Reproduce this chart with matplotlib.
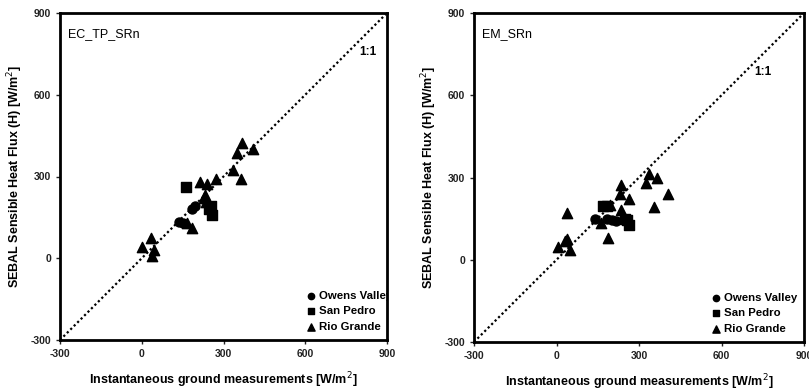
import numpy as np
import matplotlib
matplotlib.use('Agg')
import matplotlib.pyplot as plt

plt.rcParams['font.family'] = ['Liberation Sans', 'DejaVu Sans']
plt.rcParams['axes.unicode_minus'] = False

# EC_TP_SRn panel
ec_owens_x = [138, 152, 183, 197]
ec_owens_y = [134, 130, 182, 192]
ec_sanpedro_x = [163, 245, 253, 257]
ec_sanpedro_y = [263, 180, 190, 160]
ec_rio_x = [0, 33, 45, 36, 183, 165, 214, 238, 272, 232, 236, 334, 348, 367, 407, 363, 228]
ec_rio_y = [40, 73, 30, 10, 110, 130, 281, 273, 290, 232, 208, 324, 385, 424, 400, 290, 220]

# EM_SRn panel
em_owens_x = [140, 185, 200, 215]
em_owens_y = [148, 150, 145, 140]
em_sanpedro_x = [168, 185, 250, 255, 262]
em_sanpedro_y = [197, 197, 150, 145, 128]
em_rio_x = [37, 37, 30, 5, 49, 162, 188, 194, 233, 231, 265, 233, 240, 337, 325, 367, 407, 355]
em_rio_y = [172, 75, 70, 46, 36, 135, 78, 198, 273, 238, 220, 182, 160, 313, 279, 297, 239, 194]

ticks = [-300, 0, 300, 600, 900]

fig = plt.figure(figsize=(8.09, 3.9), dpi=100)
ax1 = fig.add_axes([60/809, 50/390, 327/809, 327/390])
ax2 = fig.add_axes([474/809, 48/390, 330/809, 329/390])

panels = [
    (ax1, 'EC_TP_SRn', (ec_owens_x, ec_owens_y), (ec_sanpedro_x, ec_sanpedro_y), (ec_rio_x, ec_rio_y), (830, 757)),
    (ax2, 'EM_SRn', (em_owens_x, em_owens_y), (em_sanpedro_x, em_sanpedro_y), (em_rio_x, em_rio_y), (751, 685)),
]

for ax, name, ow, sp, rg, pos11 in panels:
    ax.plot([-300, 900], [-300, 900], color='black', linestyle=(0, (1, 1.2)), lw=1.6, zorder=1)
    ax.scatter(ow[0], ow[1], marker='o', s=42, color='black', label='Owens Valley', zorder=3)
    ax.scatter(sp[0], sp[1], marker='s', s=42, color='black', label='San Pedro', zorder=3)
    ax.scatter(rg[0], rg[1], marker='^', s=55, color='black', label='Rio Grande', zorder=3)
    ax.set_xlim(-300, 900)
    ax.set_ylim(-300, 900)
    ax.set_xticks(ticks)
    ax.set_yticks(ticks)
    ax.tick_params(labelsize=7.5, length=3, width=1, colors='#222222')
    for lab in ax.get_xticklabels() + ax.get_yticklabels():
        lab.set_fontweight('bold')
    for sp_ in ax.spines.values():
        sp_.set_linewidth(2)
    ax.text(0.025, 0.955, name, transform=ax.transAxes, fontsize=9, ha='left', va='top')
    ax.text(pos11[0], pos11[1], '1:1', fontsize=8.5, fontweight='bold', ha='center', va='center')
    ax.set_xlabel('Instantaneous ground measurements [W/m$^2$]', fontsize=9, fontweight='bold', labelpad=8)
    ax.set_ylabel('SEBAL Sensible Heat Flux (H) [W/m$^2$]', fontsize=9, fontweight='bold', labelpad=4)
    leg = ax.legend(loc='lower right', frameon=False, fontsize=8.2, handletextpad=0.3, handlelength=0.8,
                    labelspacing=0.5, borderaxespad=0.3, markerscale=0.7)
    for t in leg.get_texts():
        t.set_fontweight('bold')

ax2.get_legend().set_bbox_to_anchor((1.005, 0.0), transform=ax2.transAxes)

# left legend is cut off by the frame in the original
leg1 = ax1.get_legend()
leg1.set_bbox_to_anchor((1.04, 0.0), transform=ax1.transAxes)
for t in leg1.get_texts():
    t.set_clip_on(True)
    t.set_clip_box(ax1.bbox)

fig.savefig('out.png', dpi=100, facecolor='w')
